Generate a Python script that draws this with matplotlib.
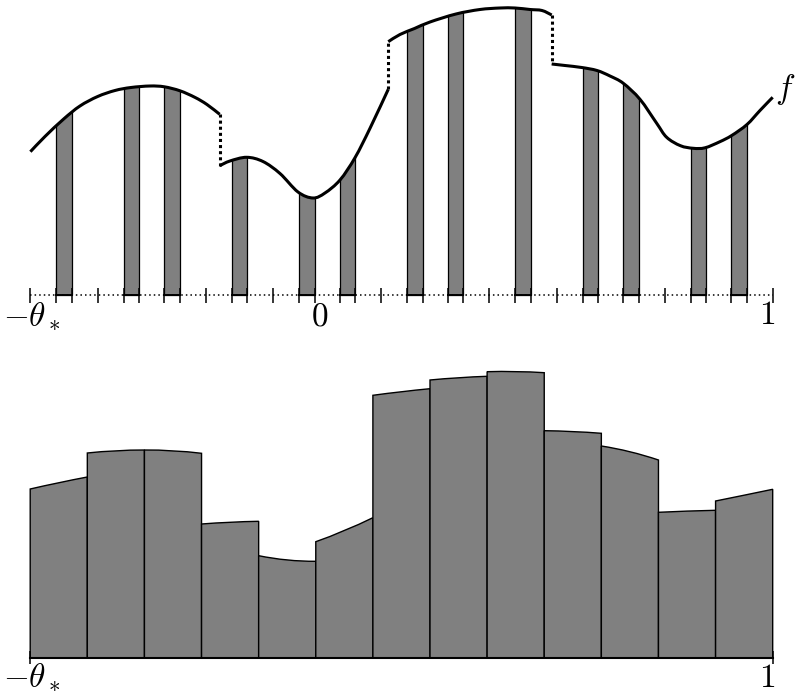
import numpy as np
import matplotlib
matplotlib.use("Agg")
from matplotlib import pyplot as plt
from matplotlib.patches import Rectangle, PathPatch
from matplotlib.path import Path

plt.rcParams["mathtext.fontset"] = "cm"

theta_star = 0.6176

# f, one list per continuous piece
f_x = [
    [-0.6172, -0.5854, -0.5447, -0.5092, -0.4706, -0.4329, -0.398, -0.3566, -0.3255, -0.2913, -0.2586, -0.2325, -0.2048],
    [-0.2048, -0.1824, -0.146, -0.1105, -0.0734, -0.0342, -0.0015, 0.0246, 0.0573, 0.09, 0.1227, 0.1625],
    [0.1625, 0.188, 0.2196, 0.2534, 0.31, 0.3623, 0.4059, 0.4386, 0.4713, 0.4974, 0.5185],
    [0.5185, 0.5475, 0.5839, 0.6172, 0.6455, 0.6745, 0.7109, 0.7473, 0.769, 0.799, 0.827, 0.8525, 0.885, 0.9107, 0.944, 0.9723, 1.0],
]
f_y = [
    [1.433, 1.585, 1.76, 1.89, 1.985, 2.045, 2.075, 2.09, 2.082, 2.042, 1.976, 1.905, 1.807],
    [1.293, 1.34, 1.377, 1.335, 1.215, 1.03, 0.97, 1.02, 1.15, 1.373, 1.667, 2.057],
    [2.533, 2.605, 2.665, 2.73, 2.81, 2.855, 2.87, 2.87, 2.855, 2.845, 2.80],
    [2.31, 2.295, 2.275, 2.245, 2.19, 2.117, 1.957, 1.717, 1.577, 1.493, 1.467, 1.472, 1.533, 1.595, 1.705, 1.845, 1.977],
]

# sample points (bars) and the plain ticks between them
bar_centers = [-0.5441, -0.3971, -0.3088, -0.1618, -0.0147, 0.0735, 0.2206,
               0.3088, 0.4559, 0.6029, 0.6912, 0.8382, 0.9265]
plain_ticks = [-0.6176, -0.4706, -0.2353, -0.0882, 0.1471, 0.3824, 0.5294, 0.7647, 1.0]

# bottom: stretched bars, top height at left / middle / right of each bin
bin_left = [1.687, 2.047, 2.077, 1.337, 1.02, 1.16, 2.624, 2.777, 2.86, 2.27, 2.117, 1.454, 1.567]
bin_mid = [1.75, 2.07, 2.07, 1.355, 0.977, 1.27, 2.66, 2.80, 2.862, 2.262, 2.06, 1.466, 1.625]
bin_right = [1.807, 2.077, 2.044, 1.364, 0.964, 1.40, 2.69, 2.814, 2.85, 2.244, 1.977, 1.474, 1.684]

gray = "#808080"
bw = 0.034
xlim = (-0.6834, 1.0486)


def smooth(xs, ys):
    # bezier segments through the read points (catmull-rom style handles)
    p = np.column_stack([xs, ys])
    q = np.vstack([p[0], p, p[-1]])
    verts, codes = [tuple(p[0])], [Path.MOVETO]
    for i in range(len(p) - 1):
        a, b, c, d = q[i], q[i + 1], q[i + 2], q[i + 3]
        verts += [tuple(b + (c - a) / 6), tuple(c - (d - b) / 6), tuple(c)]
        codes += [Path.CURVE4] * 3
    return verts, codes


fig = plt.figure(figsize=(7.95, 6.95), dpi=100)
ax = fig.add_axes([0, 0.5108, 1, 0.4892])
ax2 = fig.add_axes([0, 0, 1, 0.5036])
for a in (ax, ax2):
    a.set_xlim(*xlim)
    a.axis("off")
ax.set_ylim(-0.45, 2.95)
ax2.set_ylim(-0.373, 3.127)

# ---- top panel
ax.plot([-theta_star, 1], [0, 0], color="black", lw=1.1, ls=(0, (1, 2)))

# area under f, used to cut the bars at the curve
cv, cc = [(f_x[0][0], -0.2)], [Path.MOVETO]
pieces = []
for i in range(len(f_x)):
    v, c = smooth(f_x[i], f_y[i])
    pieces.append(Path(v, c))
    cv += v
    cc += [Path.LINETO] + c[1:]
cv += [(f_x[-1][-1], -0.2), (f_x[0][0], -0.2)]
cc += [Path.LINETO, Path.CLOSEPOLY]
clip = Path(cv, cc)

for c in bar_centers:
    r = Rectangle((c - bw / 2, 0), bw, 3.5, facecolor=gray, edgecolor="black", lw=0.9)
    ax.add_patch(r)
    r.set_clip_path(clip, ax.transData)
    ax.plot([c - bw / 2, c + bw / 2], [0, 0], color="black", lw=1.4)
    ax.vlines([c - bw / 2, c + bw / 2], -0.077, 0.07, color="black", lw=1.1)
ax.vlines(plain_ticks, -0.077, 0.07, color="black", lw=1.1)

for i, pth in enumerate(pieces):
    ax.add_patch(PathPatch(pth, facecolor="none", edgecolor="black", lw=2.2, capstyle="butt"))
    if i > 0:
        ax.plot([f_x[i][0]] * 2, [f_y[i - 1][-1], f_y[i][0]], color="black",
                lw=2.2, ls=(0, (1, 1)))

ax.text(-0.6137, -0.21, r"$-\theta_*$", fontsize=24, ha="center", va="center")
ax.text(0.0137, -0.21, r"$0$", fontsize=24, ha="center", va="center")
ax.text(0.9887, -0.2, r"$1$", fontsize=24, ha="center", va="center")
ax.text(1.005, 2.05, r"$f$", fontsize=24, ha="left", va="center")

# ---- bottom panel
edges = np.linspace(-theta_star, 1, len(bin_left) + 1)
for i in range(len(bin_left)):
    xl, xr = edges[i], edges[i + 1]
    xm = (xl + xr) / 2
    ctrl = 2 * bin_mid[i] - (bin_left[i] + bin_right[i]) / 2
    verts = [(xl, 0), (xl, bin_left[i]), (xm, ctrl), (xr, bin_right[i]), (xr, 0), (xl, 0)]
    codes = [Path.MOVETO, Path.LINETO, Path.CURVE3, Path.CURVE3, Path.LINETO, Path.CLOSEPOLY]
    ax2.add_patch(PathPatch(Path(verts, codes), facecolor=gray, edgecolor="black", lw=1.0))

ax2.plot([-theta_star, 1], [0, 0], color="black", lw=1.5)
ax2.vlines([-theta_star, 1], -0.06, 0.07, color="black", lw=1.1)
ax2.text(-0.6137, -0.19, r"$-\theta_*$", fontsize=24, ha="center", va="center")
ax2.text(0.9887, -0.2, r"$1$", fontsize=24, ha="center", va="center")

fig.savefig("out.png", dpi=100)
